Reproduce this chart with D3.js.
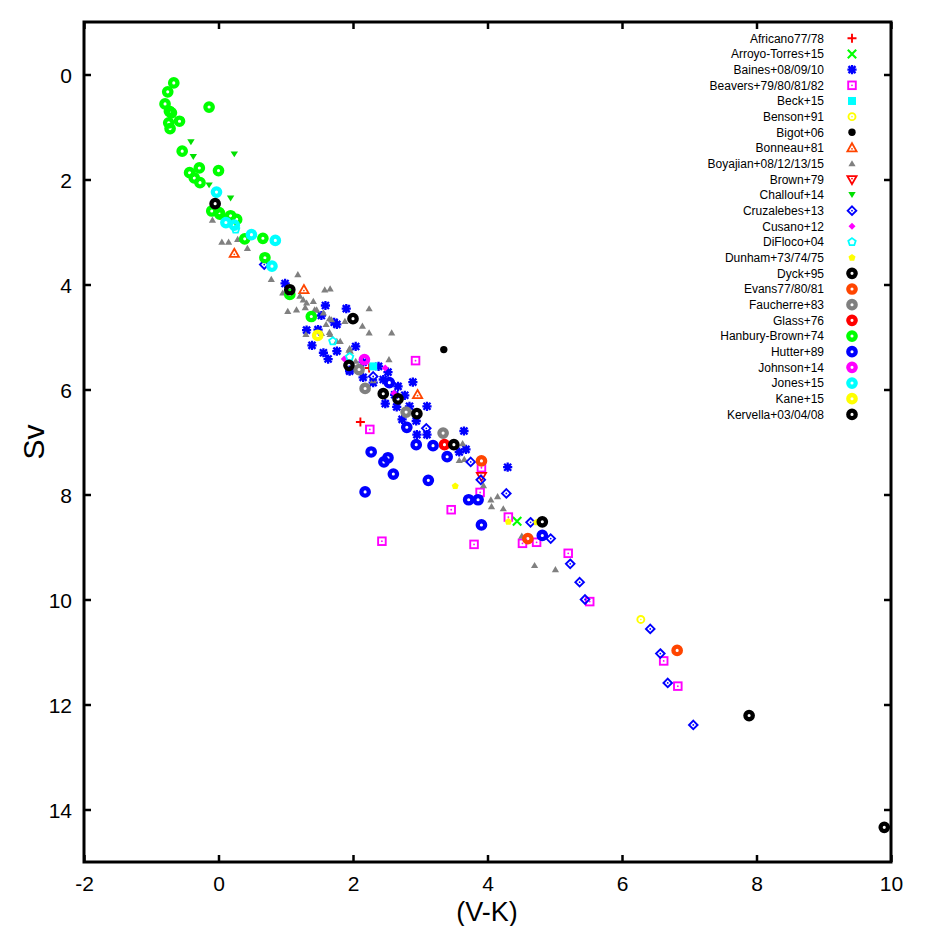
<!DOCTYPE html>
<html>
<head>
<meta charset="utf-8">
<script src="https://cdn.jsdelivr.net/npm/d3@7"></script>
<style>
html,body{margin:0;padding:0;background:#fff;}
svg{display:block;font-family:"Liberation Sans",Arial,Helvetica,sans-serif;}
</style>
</head>
<body>
<svg id="chart" width="926" height="926"></svg>
<script>
// ---- Data (V-K, Sv) per source ----
const africano = [[2.11,6.62],[2.24,5.59]];
const arroyo = [[4.44,8.51]];
const baines = [[0.99,3.98],[1.59,4.40],[1.90,4.46],[1.31,4.87],[1.39,5.16],[1.56,5.30],[1.63,5.42],[1.72,4.72],
  [1.76,5.27],[1.95,5.63],[2.15,5.48],[2.38,5.56],[2.52,5.67],[2.15,5.77],[2.30,5.87],[2.45,5.81],[2.67,5.94],
  [2.77,6.11],[2.89,5.86],[3.10,6.32],[2.48,6.27],[2.65,6.33],[2.84,6.32],[2.94,6.60],[2.95,6.86],[3.10,6.86],
  [3.65,6.79],[3.68,7.14],[3.58,7.19],[4.30,7.48],[1.53,4.59],[1.76,4.76],[1.48,4.86],[2.04,5.18],[2.62,6.10],
  [2.73,6.57],[1.95,5.65]];
const beavers = [[2.93,5.45],[2.25,6.76],[3.91,7.49],[3.89,7.96],[3.46,8.29],[4.31,8.43],[4.52,8.93],[4.73,8.91],
  [3.80,8.95],[5.20,9.12],[5.52,10.04],[6.62,11.17],[6.83,11.65],[2.43,8.89]];
const beck = [[2.30,5.56]];
const benson = [[6.28,10.38]];
const bigot = [[3.35,5.24]];
const bonneau = [[0.235,3.41],[1.27,4.10],[2.96,6.10]];
const boyajian = [[-0.09,2.77],[0.05,3.19],[0.15,3.19],[0.285,3.14],[0.43,3.31],[0.785,3.90],[1.18,3.81],[0.955,4.16],
  [1.03,4.51],[1.16,4.48],[1.58,4.10],[1.66,4.08],[1.88,4.70],[2.24,4.46],[2.14,4.79],[2.24,4.92],[2.575,4.92],
  [1.29,4.44],[1.41,4.32],[1.46,4.48],[1.56,4.54],[1.68,4.67],[1.60,4.76],[1.65,4.91],[1.76,5.08],[1.95,5.22],
  [2.04,5.46],[2.535,5.43],[1.30,4.95],[1.66,4.95],[3.58,7.35],[3.655,7.33],[3.63,7.03],[3.94,7.83],[4.05,8.10],
  [4.15,8.04],[4.06,8.23],[4.235,8.27],[4.51,8.79],[4.70,9.35],[5.01,9.43],[2.30,5.83],[1.94,5.25],[1.21,4.22],
  [1.26,4.29],[1.31,4.35],[1.43,4.48],[1.65,4.65],[1.53,4.93],[1.81,5.08],[1.96,5.27]];
const brown = [[3.91,7.65]];
const challouf = [[-0.41,1.29],[-0.375,1.57],[0.235,1.52],[-0.14,2.11],[0.18,2.36]];
const cruzalebes = [[4.94,8.84],[5.23,9.32],[5.37,9.67],[5.45,10.0],[6.42,10.56],[6.57,11.03],[6.68,11.59],[7.06,12.39],
  [3.09,6.74],[3.75,7.38],[3.90,7.72],[4.28,7.98],[4.64,8.53],[2.30,5.75],[0.68,3.62]];
const cusano = [[1.87,5.42],[2.61,6.07],[2.48,5.59]];
const difloco = [[0.255,2.95],[1.70,5.08],[1.95,5.38]];
const dunham = [[3.52,7.84],[4.31,8.52],[4.73,8.53]];
const dyck = [[7.89,12.21],[9.90,14.34],[2.00,4.65],[4.815,8.52]];
const evans = [[3.91,7.36],[4.60,8.84],[6.82,10.97]];
const faucherre = [[2.09,5.62],[2.18,5.98],[2.79,6.43],[3.34,6.83]];
const glass = [[3.36,7.05]];
const hanbury = [[-0.665,0.16],[-0.755,0.33],[-0.795,0.56],[-0.73,0.70],[-0.70,0.73],[-0.74,0.92],[-0.58,0.89],
  [-0.72,1.03],[-0.14,0.62],[-0.54,1.46],[-0.285,1.78],[-0.43,1.87],[-0.36,1.97],[-0.275,2.06],[0.0,1.83],
  [-0.10,2.60],[0.01,2.63],[0.02,2.66],[0.18,2.69],[0.27,2.76],[0.39,3.13],[0.66,3.12],[0.69,3.49],[1.06,4.19],[1.38,4.61]];
const hutter = [[2.54,5.87],[2.80,6.72],[2.94,7.05],[3.19,7.07],[3.40,7.28],[2.27,7.19],[2.52,7.30],[2.46,7.38],
  [2.60,7.61],[3.12,7.73],[2.18,7.95],[3.72,8.10],[3.86,8.10],[3.91,8.58],[4.815,8.78]];
const johnson = [[2.17,5.43]];
const jones = [[-0.03,2.24],[0.11,2.82],[0.235,2.87],[0.49,3.05],[0.845,3.16],[0.795,3.65]];
const kane = [[1.475,4.97]];
const kervella = [[-0.05,2.46],[1.06,4.10],[1.94,5.54],[2.45,6.08],[2.67,6.18],[2.95,6.46],[3.50,7.05]];

const seriesNames = ["Africano77/78","Arroyo-Torres+15","Baines+08/09/10","Beavers+79/80/81/82","Beck+15","Benson+91",
  "Bigot+06","Bonneau+81","Boyajian+08/12/13/15","Brown+79","Challouf+14","Cruzalebes+13","Cusano+12","DiFloco+04",
  "Dunham+73/74/75","Dyck+95","Evans77/80/81","Faucherre+83","Glass+76","Hanbury-Brown+74","Hutter+89","Johnson+14",
  "Jones+15","Kane+15","Kervella+03/04/08"];
const seriesData = [africano,arroyo,baines,beavers,beck,benson,bigot,bonneau,boyajian,brown,challouf,cruzalebes,cusano,
  difloco,dunham,dyck,evans,faucherre,glass,hanbury,hutter,johnson,jones,kane,kervella];
const seriesColors = ["#ff0000","#00ff00","#0000ff","#ff00ff","#00ffff","#ffff00","#000000","#ff4500","#808080",
  "#ff0000","#00e000","#0000ff","#ff00ff","#00ffff","#ffff00","#000000","#ff4500","#808080","#ff0000","#00ff00",
  "#0000ff","#ff00ff","#00ffff","#ffff00","#000000"];
const seriesSymbols = ["plus","cross","star","sqOpen","sqFill","circOpen","circFill","triOpen","triFill","dtriOpen",
  "dtriFill","diaOpen","diaFill","pentOpen","pentFill","ring","ring","ring","ring","ring","ring","ring","ring","ring","ring"];
const xTicks = [-2,0,2,4,6,8,10];
const yTicks = [0,2,4,6,8,10,12,14];

// ---- Layout ----
const svg = d3.select("#chart");
const L = 84, R = 891, T = 22, B = 862;
const x = d3.scaleLinear().domain([-2,10]).range([L,R]);
const y = d3.scaleLinear().domain([-1,15]).range([T,B]);

function pent(r){ const p=[]; for(let i=0;i<5;i++){const a=-Math.PI/2+i*2*Math.PI/5; p.push([r*Math.cos(a),r*Math.sin(a)]);} return "M"+p.map(q=>q.join(",")).join("L")+"Z"; }

function drawSymbol(g, sym, color){
  switch(sym){
    case "plus": g.append("path").attr("d","M-4.5,0H4.5M0,-4.5V4.5").attr("stroke",color).attr("stroke-width",1.9).attr("fill","none"); break;
    case "cross": g.append("path").attr("d","M-4.2,-4.2L4.2,4.2M-4.2,4.2L4.2,-4.2").attr("stroke",color).attr("stroke-width",2.1).attr("fill","none"); break;
    case "star": g.append("path").attr("d","M-4.6,0H4.6M0,-4.6V4.6M-3.5,-3.5L3.5,3.5M-3.5,3.5L3.5,-3.5").attr("stroke",color).attr("stroke-width",2.3).attr("fill","none"); break;
    case "sqOpen": g.append("rect").attr("x",-3.8).attr("y",-3.8).attr("width",7.6).attr("height",7.6).attr("stroke",color).attr("stroke-width",1.9).attr("fill","none");
      g.append("circle").attr("r",0.9).attr("fill",color); break;
    case "sqFill": g.append("rect").attr("x",-4).attr("y",-4).attr("width",8).attr("height",8).attr("fill",color); break;
    case "circOpen": g.append("circle").attr("r",3.5).attr("stroke",color).attr("stroke-width",1.9).attr("fill","none");
      g.append("circle").attr("r",0.8).attr("fill",color); break;
    case "circFill": g.append("circle").attr("r",3.7).attr("fill",color); break;
    case "triOpen": g.append("path").attr("d","M0,-4.8L4.6,3.3L-4.6,3.3Z").attr("stroke",color).attr("stroke-width",1.8).attr("fill","none");
      g.append("circle").attr("r",0.9).attr("cy",0.8).attr("fill",color); break;
    case "triFill": g.append("path").attr("d","M0,-3.5L3.6,2.7L-3.6,2.7Z").attr("fill",color); break;
    case "dtriOpen": g.append("path").attr("d","M0,4.8L4.6,-3.3L-4.6,-3.3Z").attr("stroke",color).attr("stroke-width",1.8).attr("fill","none");
      g.append("circle").attr("r",0.9).attr("cy",-0.8).attr("fill",color); break;
    case "dtriFill": g.append("path").attr("d","M0,3L3.7,-2.9L-3.7,-2.9Z").attr("fill",color); break;
    case "diaOpen": g.append("path").attr("d","M0,-4.3L4.3,0L0,4.3L-4.3,0Z").attr("stroke",color).attr("stroke-width",1.9).attr("fill","none");
      g.append("circle").attr("r",0.9).attr("fill",color); break;
    case "diaFill": g.append("path").attr("d","M0,-3.5L3.5,0L0,3.5L-3.5,0Z").attr("fill",color); break;
    case "pentOpen": g.append("path").attr("d",pent(3.9)).attr("stroke",color).attr("stroke-width",1.8).attr("fill","none"); break;
    case "pentFill": g.append("path").attr("d",pent(3.7)).attr("fill",color); break;
    case "ring": g.append("circle").attr("r",3.7).attr("stroke",color).attr("stroke-width",4.3).attr("fill","none"); break;
  }
}

// Points (plotted in legend order, later series on top)
const plot = svg.append("g").attr("class","points");
seriesData.forEach((data,i)=>{
  const sg = plot.append("g");
  data.forEach(d=>{
    const g = sg.append("g").attr("transform",`translate(${x(d[0])},${y(d[1])})`);
    drawSymbol(g, seriesSymbols[i], seriesColors[i]);
  });
});

// Axes (ticks inward on all four sides)
const fmt = d => String(d);
const axB = svg.append("g").attr("transform",`translate(0,${B})`)
  .call(d3.axisBottom(x).tickValues(xTicks).tickSizeInner(-7).tickSizeOuter(0).tickPadding(14).tickFormat(fmt));
const axT = svg.append("g").attr("transform",`translate(0,${T})`)
  .call(d3.axisTop(x).tickValues(xTicks).tickSizeInner(-7).tickSizeOuter(0).tickFormat(""));
const axL = svg.append("g").attr("transform",`translate(${L},0)`)
  .call(d3.axisLeft(y).tickValues(yTicks).tickSizeInner(-7).tickSizeOuter(0).tickPadding(12).tickFormat(fmt));
const axR = svg.append("g").attr("transform",`translate(${R},0)`)
  .call(d3.axisRight(y).tickValues(yTicks).tickSizeInner(-7).tickSizeOuter(0).tickFormat(""));
[axB,axT,axL,axR].forEach(a=>{
  a.select(".domain").remove();
  a.selectAll(".tick line").attr("stroke","#000").attr("stroke-width",2.5);
  a.selectAll(".tick text").attr("fill","#000").style("font-size","21px").style("font-family","'Liberation Sans',Arial,sans-serif");
});
axL.selectAll(".tick text").attr("dy","0.36em");

// Frame
svg.append("rect").attr("x",L).attr("y",T).attr("width",R-L).attr("height",B-T)
  .attr("fill","none").attr("stroke","#000").attr("stroke-width",3);

// Axis titles
svg.append("text").attr("x",487).attr("y",921).attr("text-anchor","middle")
  .style("font-size","27px").text("(V-K)");
svg.append("text").attr("transform","translate(44,442) rotate(-90)").attr("text-anchor","middle")
  .style("font-size","30px").text("Sv");

// Legend
const leg = svg.append("g").attr("class","legend");
seriesNames.forEach((name,i)=>{
  const yy = 38.3 + i*15.67;
  leg.append("text").attr("x",824).attr("y",yy).attr("dy","0.35em").attr("text-anchor","end")
    .style("font-size","12px").attr("fill","#000").text(name);
  const g = leg.append("g").attr("transform",`translate(852,${yy})`);
  drawSymbol(g, seriesSymbols[i], seriesColors[i]);
});
</script>
</body>
</html>
